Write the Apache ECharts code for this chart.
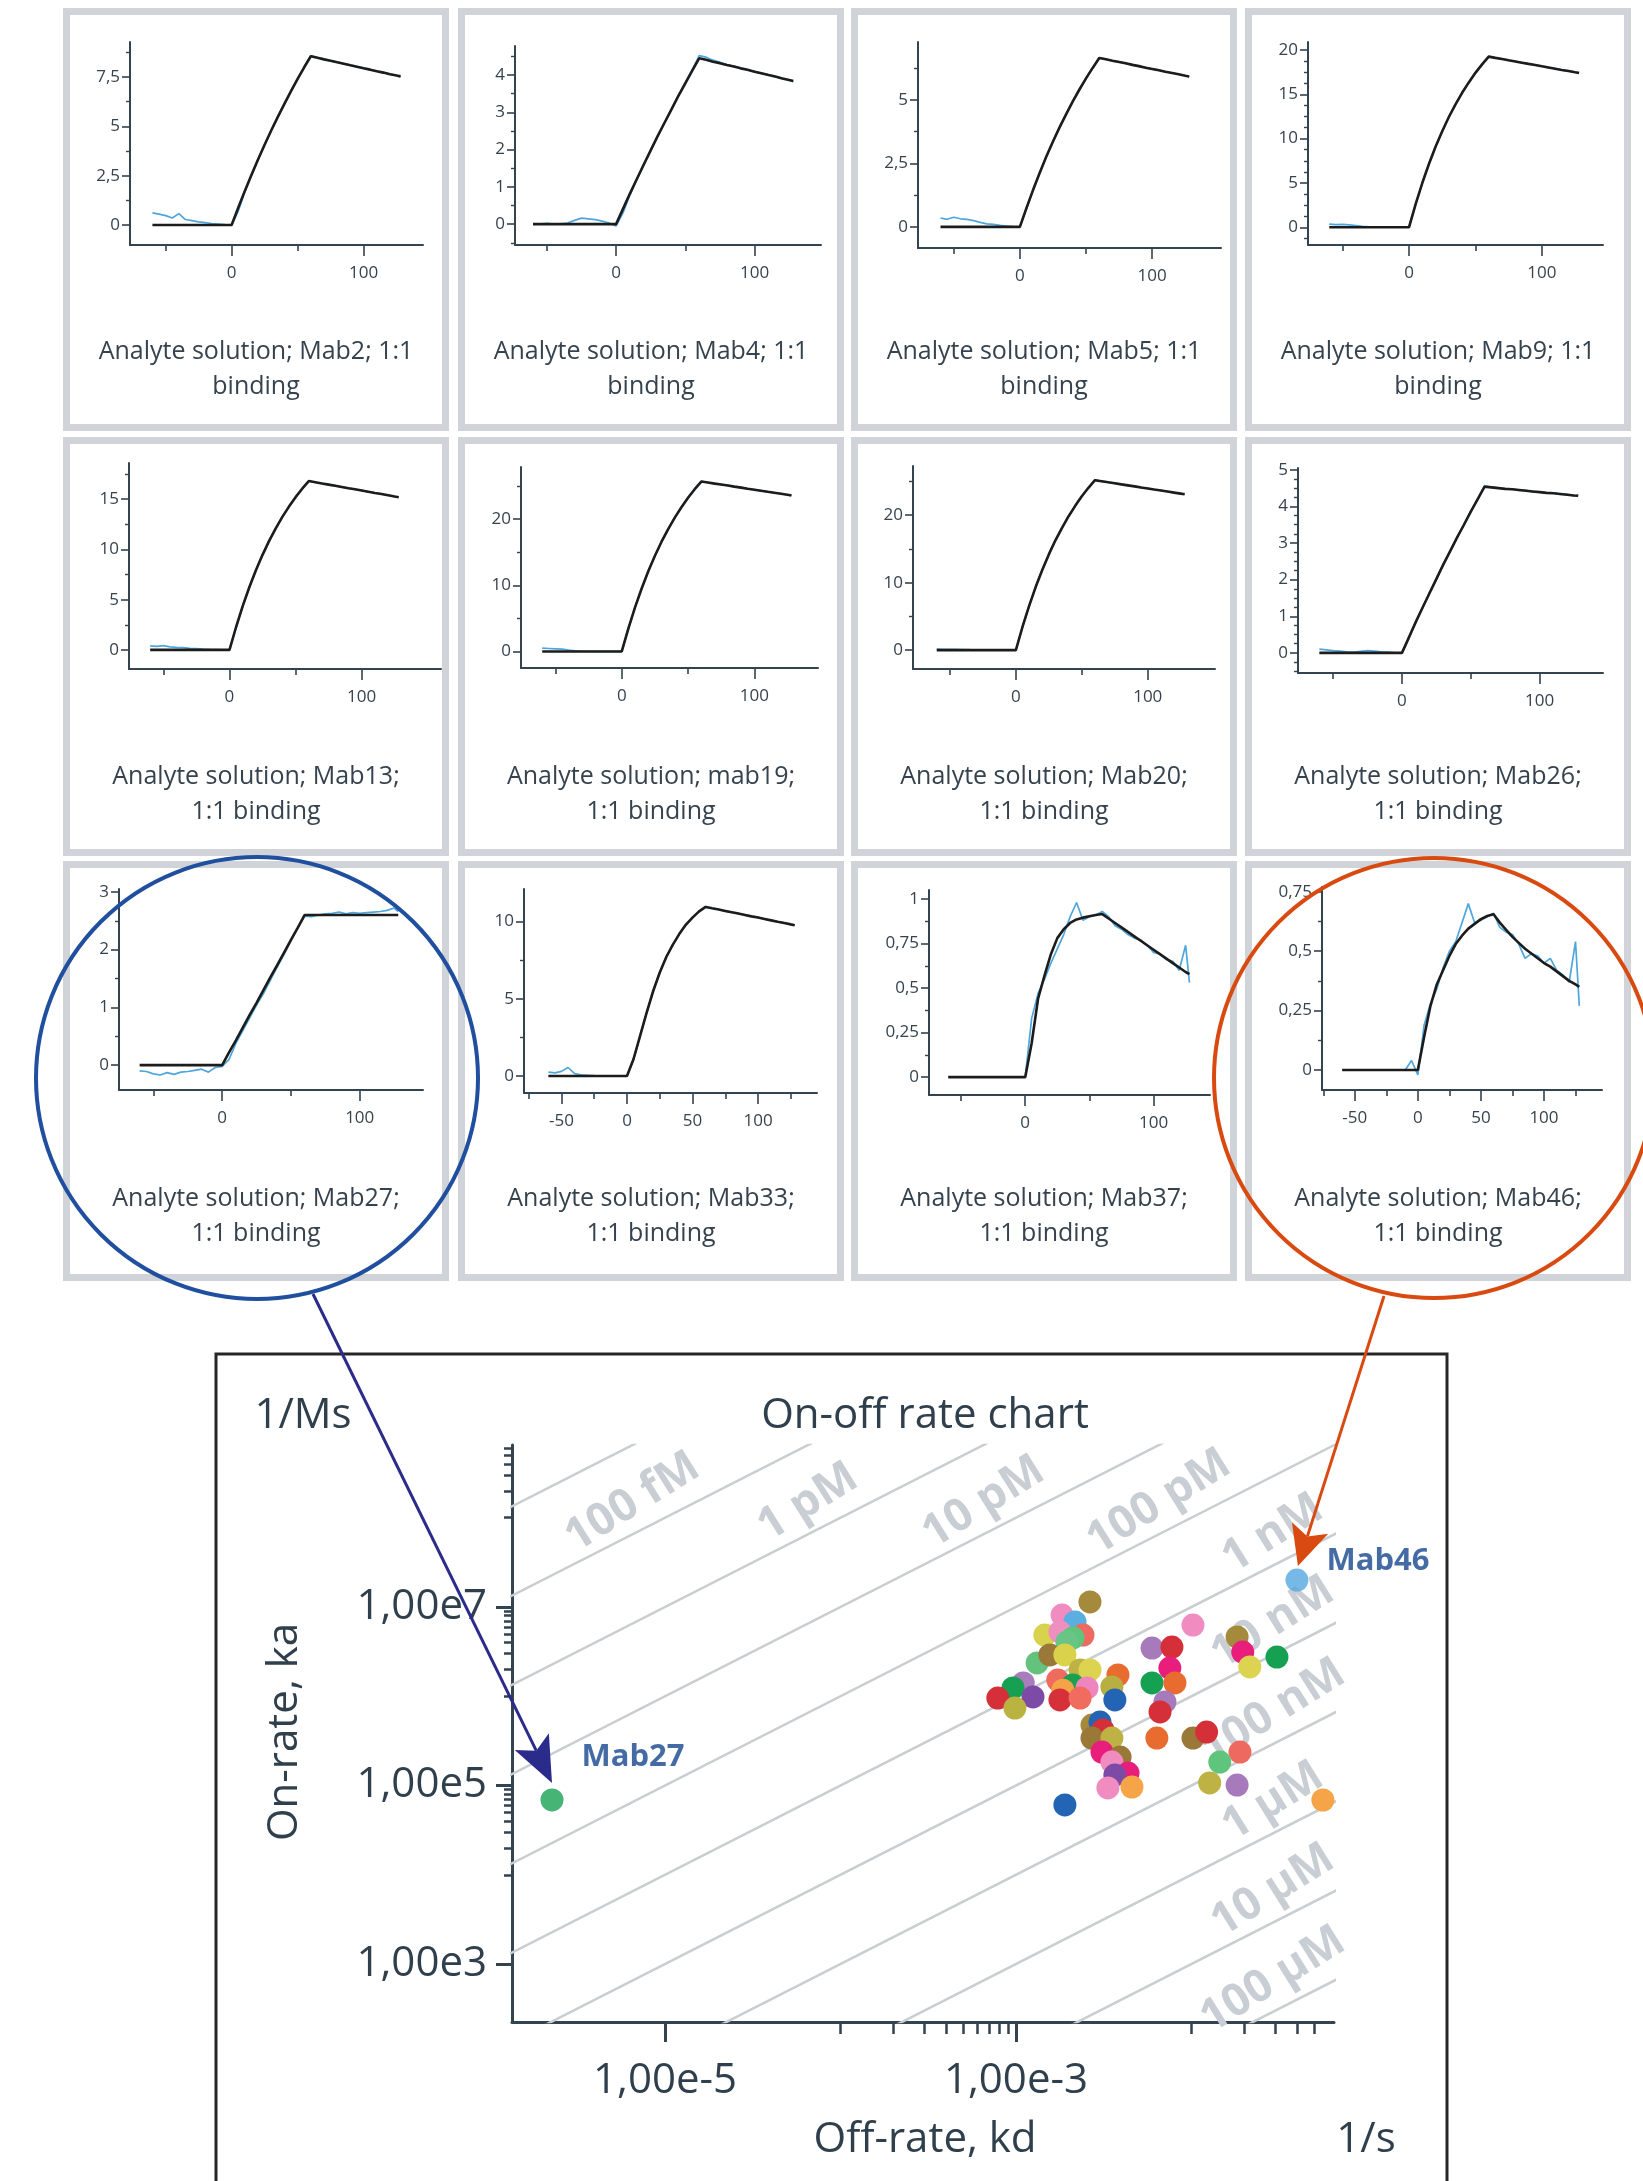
<!DOCTYPE html>
<html>
<head>
<meta charset="utf-8">
<script src="https://cdn.jsdelivr.net/npm/echarts@6/dist/echarts.min.js"></script>
<style>
  html, body { margin: 0; padding: 0; background: #ffffff; }
  #chart { width: 1643px; height: 2181px; }
</style>
</head>
<body>
<div id="chart"></div>
<script>
// ---------------- Sensorgram data (response units vs time, s) ----------------
const TIME = [-60,-55,-50,-45,-40,-35,-30,-25,-20,-15,-10,-5,0,5,10,15,20,25,30,35,40,45,50,55,60,65,70,75,80,85,90,95,100,105,110,115,120,125,128];

const fitMab2 = [0,0,0,0,0,0,0,0,0,0,0,0, 0, 0.88,1.73,2.54,3.32,4.07,4.79,5.48,6.14,6.78,7.40,7.99,8.55, 8.47,8.39,8.32,8.24,8.17,8.09,8.02,7.94,7.87,7.79,7.72,7.64,7.57, 7.53];
const rawMab2 = [0.62,0.55,0.48,0.36,0.58,0.28,0.22,0.16,0.12,0.08,0.05,0.02, 0, 0.70,1.68,2.52,3.30,4.08,4.80,5.46,6.15,6.80,7.38,8.01,8.58, 8.48,8.40,8.31,8.25,8.16,8.10,8.01,7.95,7.86,7.80,7.71,7.65,7.58, 7.50];

const fitMab4 = [0,0,0,0,0,0,0,0,0,0,0,0, 0, 0.41,0.82,1.21,1.60,1.98,2.36,2.72,3.08,3.44,3.78,4.12,4.45, 4.41,4.36,4.32,4.27,4.23,4.18,4.14,4.09,4.05,4.00,3.96,3.91,3.87, 3.84];
const rawMab4 = [0.01,0.00,0.02,0.00,0.01,0.03,0.10,0.16,0.14,0.12,0.08,0.03, -0.05, 0.30,0.78,1.20,1.58,1.99,2.35,2.73,3.07,3.45,3.80,4.14,4.52, 4.48,4.40,4.34,4.28,4.24,4.19,4.13,4.10,4.04,4.01,3.95,3.92,3.86, 3.82];

const fitMab5 = [0,0,0,0,0,0,0,0,0,0,0,0, 0, 0.75,1.46,2.13,2.77,3.36,3.92,4.44,4.94,5.41,5.85,6.26,6.65, 6.60,6.54,6.49,6.44,6.38,6.33,6.27,6.22,6.17,6.11,6.06,6.01,5.95, 5.92];
const rawMab5 = [0.35,0.30,0.38,0.32,0.30,0.25,0.18,0.12,0.10,0.06,0.03,0.01, 0, 0.70,1.44,2.12,2.78,3.35,3.93,4.43,4.95,5.40,5.86,6.25,6.66, 6.61,6.53,6.50,6.43,6.39,6.32,6.28,6.21,6.18,6.10,6.07,6.00,5.96, 5.90];

const fitMab9 = [0,0,0,0,0,0,0,0,0,0,0,0, 0, 2.62,4.99,7.14,9.09,10.84,12.44,13.86,15.17,16.34,17.42,18.38,19.25, 19.11,18.98,18.84,18.71,18.57,18.43,18.30,18.16,18.03,17.89,17.75,17.62,17.48, 17.40];
const rawMab9 = [0.35,0.30,0.32,0.28,0.20,0.10,0.05,0.02,0.01,0,0,0, 0, 2.55,5.02,7.10,9.12,10.80,12.47,13.83,15.20,16.31,17.45,18.36,19.28, 19.10,19.00,18.82,18.73,18.55,18.45,18.28,18.18,18.01,17.91,17.73,17.64,17.50, 17.45];

const fitMab13 = [0,0,0,0,0,0,0,0,0,0,0,0, 0, 2.28,4.35,6.23,7.93,9.46,10.85,12.10,13.24,14.26,15.20,16.04,16.80, 16.68,16.56,16.45,16.33,16.21,16.09,15.98,15.86,15.74,15.62,15.51,15.39,15.27, 15.20];
const rawMab13 = [0.40,0.35,0.42,0.30,0.25,0.22,0.15,0.12,0.08,0.05,0.03,0.01, 0, 2.20,4.38,6.20,7.96,9.43,10.88,12.07,13.27,14.23,15.22,16.02,16.83, 16.66,16.58,16.43,16.35,16.19,16.11,15.96,15.88,15.72,15.64,15.49,15.41,15.25, 15.22];

const fitMab19 = [0,0,0,0,0,0,0,0,0,0,0,0, 0, 3.50,6.66,9.53,12.13,14.47,16.60,18.50,20.25,21.82,23.26,24.54,25.70, 25.55,25.39,25.24,25.09,24.93,24.78,24.62,24.47,24.32,24.16,24.01,23.86,23.70, 23.60];
const rawMab19 = [0.50,0.45,0.40,0.35,0.20,0.10,0.05,0.02,0,0,0,0, 0, 3.40,6.70,9.50,12.16,14.44,16.63,18.47,20.28,21.79,23.29,24.51,25.74, 25.52,25.42,25.21,25.12,24.90,24.81,24.59,24.50,24.29,24.19,23.98,23.89,23.67, 23.65];

const fitMab20 = [0,0,0,0,0,0,0,0,0,0,0,0, 0, 3.43,6.53,9.35,11.89,14.19,16.28,18.14,19.86,21.39,22.81,24.07,25.20, 25.05,24.89,24.74,24.58,24.43,24.28,24.12,23.97,23.81,23.66,23.51,23.35,23.20, 23.10];
const rawMab20 = [0.15,0.12,0.10,0.12,0.08,0.06,0.05,0.04,0.02,0.01,0,0, 0, 3.35,6.56,9.32,11.92,14.16,16.31,18.11,19.89,21.36,22.84,24.04,25.24, 25.02,24.92,24.71,24.61,24.40,24.31,24.09,24.00,23.78,23.69,23.48,23.38,23.17, 23.15];

const fitMab26 = [0,0,0,0,0,0,0,0,0,0,0,0, 0, 0.42,0.84,1.24,1.63,2.02,2.41,2.78,3.15,3.50,3.86,4.20,4.54, 4.52,4.50,4.48,4.47,4.45,4.43,4.41,4.39,4.37,4.36,4.34,4.32,4.30, 4.29];
const rawMab26 = [0.10,0.08,0.06,0.05,0.03,0.02,0.04,0.06,0.05,0.03,0.02,0.00, -0.01, 0.38,0.85,1.22,1.65,2.00,2.43,2.76,3.17,3.48,3.88,4.18,4.57, 4.53,4.51,4.47,4.48,4.44,4.44,4.40,4.40,4.36,4.37,4.33,4.33,4.29, 4.31];

const fitMab27 = [0,0,0,0,0,0,0,0,0,0,0,0, 0, 0.22,0.43,0.65,0.87,1.08,1.30,1.52,1.73,1.95,2.17,2.38,2.60, 2.60,2.60,2.60,2.60,2.60,2.60,2.60,2.60,2.60,2.60,2.60,2.60,2.60, 2.60];
const rawMab27 = [-0.10,-0.11,-0.15,-0.17,-0.13,-0.16,-0.12,-0.11,-0.09,-0.07,-0.12,-0.04, -0.02, 0.10,0.38,0.60,0.82,1.04,1.24,1.47,1.70,1.92,2.15,2.38,2.58, 2.57,2.60,2.62,2.63,2.65,2.62,2.64,2.63,2.64,2.65,2.66,2.68,2.72, 2.66];

const fitMab33 = [0,0,0,0,0,0,0,0,0,0,0,0, 0, 1.10,2.60,4.10,5.50,6.70,7.70,8.50,9.20,9.80,10.25,10.65,10.94, 10.85,10.77,10.68,10.59,10.51,10.42,10.33,10.25,10.16,10.07,9.98,9.90,9.81, 9.76];
const rawMab33 = [0.25,0.20,0.30,0.55,0.15,0.08,0.05,0.02,0,0,0,0, 0, 1.05,2.62,4.08,5.52,6.68,7.72,8.48,9.22,9.78,10.27,10.63,10.96, 10.84,10.78,10.67,10.60,10.50,10.43,10.32,10.26,10.15,10.08,9.97,9.91,9.80, 9.78];

const fitMab37 = [0,0,0,0,0,0,0,0,0,0,0,0, 0, 0.19,0.44,0.57,0.69,0.78,0.83,0.865,0.885,0.895,0.903,0.91,0.915, 0.89,0.865,0.84,0.815,0.79,0.765,0.74,0.715,0.69,0.665,0.64,0.615,0.59, 0.578];
const rawMab37 = [0,0,0,0,0,0,0,0,0,0,0,0, 0, 0.33,0.47,0.55,0.64,0.72,0.80,0.90,0.98,0.88,0.90,0.91,0.93, 0.90,0.85,0.83,0.80,0.78,0.77,0.74,0.70,0.69,0.66,0.65,0.60,0.74, 0.53];

const fitMab46 = [0,0,0,0,0,0,0,0,0,0,0,0, 0, 0.14,0.27,0.36,0.42,0.48,0.53,0.565,0.595,0.615,0.635,0.648,0.655, 0.62,0.59,0.56,0.535,0.51,0.49,0.47,0.45,0.435,0.415,0.395,0.375,0.36, 0.35];
const rawMab46 = [0,0,0,0,0,0,0,0,0,0,0,0.04, -0.02, 0.19,0.28,0.34,0.43,0.50,0.54,0.62,0.70,0.62,0.63,0.645,0.66, 0.60,0.58,0.57,0.53,0.47,0.49,0.48,0.45,0.47,0.42,0.40,0.37,0.54, 0.27];

const panelNames = ['Mab2','Mab4','Mab5','Mab9','Mab13','mab19','Mab20','Mab26','Mab27','Mab33','Mab37','Mab46'];
const panelFits = [fitMab2, fitMab4, fitMab5, fitMab9, fitMab13, fitMab19, fitMab20, fitMab26, fitMab27, fitMab33, fitMab37, fitMab46];
const panelRaws = [rawMab2, rawMab4, rawMab5, rawMab9, rawMab13, rawMab19, rawMab20, rawMab26, rawMab27, rawMab33, rawMab37, rawMab46];

// response-axis tick labels
const yTicksMab2 = [0, 2.5, 5, 7.5];
const yTicksMab4 = [0, 1, 2, 3, 4];
const yTicksMab5 = [0, 2.5, 5];
const yTicksMab9 = [0, 5, 10, 15, 20];
const yTicksMab13 = [0, 5, 10, 15];
const yTicksMab19 = [0, 10, 20];
const yTicksMab20 = [0, 10, 20];
const yTicksMab26 = [0, 1, 2, 3, 4, 5];
const yTicksMab27 = [0, 1, 2, 3];
const yTicksMab33 = [0, 5, 10];
const yTicksMab37 = [0, 0.25, 0.5, 0.75, 1];
const yTicksMab46 = [0, 0.25, 0.5, 0.75];
const panelYTicks = [yTicksMab2, yTicksMab4, yTicksMab5, yTicksMab9, yTicksMab13, yTicksMab19, yTicksMab20, yTicksMab26, yTicksMab27, yTicksMab33, yTicksMab37, yTicksMab46];

// time-axis tick labels
const timeTicksShort = [0, 100];
const timeMinorShort = [-50, 50];
const timeTicksLong = [-50, 0, 50, 100];
const timeMinorLong = [-75, -25, 25, 75, 125];

// ---------------- On-off rate data ----------------
const offRates = [2.64e-3,1.83e-3,2.17e-3,1.46e-3,1.78e-3,2.41e-3,2.11e-3,1.95e-3,1.32e-3,1.56e-3,
  1.90e-3,1.73e-3,2.32e-3,2.64e-3,2.11e-3,2.54e-3,1.85e-3,1.78e-3,2.32e-3,3.81e-3,
  3.52e-3,3.66e-3,1.10e-3,9.62e-4,1.25e-3,7.88e-4,9.86e-4,5.96e-3,7.74e-3,7.53e-3,
  5.96e-3,8.05e-3,7.06e-3,6.62e-3,1.02e-2,1.82e-2,1.96e-2,2.15e-2,3.07e-2,2.71e-3,
  3.01e-3,3.13e-3,2.71e-3,3.52e-3,3.09e-3,3.92e-3,3.52e-3,4.35e-3,3.66e-3,3.34e-3,
  4.58e-3,6.35e-3,1.02e-2,1.22e-2,1.89e-2,1.45e-2,1.27e-2,1.82e-2,1.90e-3,5.61e-2];
const onRates = [1.14e7,8.13e6,6.79e6,4.85e6,5.25e6,4.85e6,4.50e6,4.05e6,2.36e6,2.90e6,
  2.90e6,1.52e6,1.97e6,1.97e6,1.34e6,1.24e6,1.17e6,9.08e5,9.55e5,1.73e6,
  1.27e6,9.08e5,1.41e6,1.24e6,9.82e5,9.55e5,7.38e5,3.47e6,3.56e6,2.07e6,
  1.41e6,1.41e6,8.63e5,6.67e5,6.28e6,4.61e6,3.13e6,2.13e6,2.75e6,4.76e5,
  5.14e5,4.19e5,3.40e5,3.40e5,2.37e5,2.08e5,1.83e5,1.38e5,1.31e5,9.38e4,
  9.62e4,3.40e5,3.40e5,3.97e5,2.37e5,1.83e5,1.07e5,1.01e5,6.05e4,6.88e4];
const mab27Rates = [2.27e-6, 6.9e4];
const mab46Rates = [3.99e-2, 2.0e7];

const isoKD = [1e-14, 1e-13, 1e-12, 1e-11, 1e-10, 1e-9, 1e-8, 1e-7, 1e-6, 1e-5, 1e-4];
const isoLabels = ['10 fM', '100 fM', '1 pM', '10 pM', '100 pM', '1 nM', '10 nM', '100 nM', '1 µM', '10 µM', '100 µM'];

const offRateTicks = [1e-5, 1e-3];
const offRateMinorTicks = [1e-4,2e-4,3e-4,4e-4,5e-4,6e-4,7e-4,8e-4,9e-4, 1e-2,2e-2,3e-2,4e-2,5e-2];
const onRateTicks = [1e3, 1e5, 1e7];
const onRateMinorTicks = [1e4,2e4,3e4,4e4,5e4,6e4,7e4,8e4,9e4, 1e6,2e6,3e6,4e6,5e6,6e6,7e6,8e6,9e6, 1e8,2e8,3e8,4e8,5e8,6e8];

// ---------------- layout & style ----------------
const panelBoxes = [
  [130, 42, 423, 245], [515, 46, 821, 245], [918, 42, 1221, 248], [1308, 42, 1603, 245],
  [129, 463, 441, 669], [521, 467, 818, 668], [913, 466, 1215, 669], [1298, 468, 1603, 673],
  [119, 889, 423, 1090], [524, 889, 817, 1093], [929, 890, 1210, 1095], [1322, 887, 1602, 1090]
];
const panelXRange = [[-77,145],[-73,148],[-77,152],[-76,146],[-76,160],[-76,148],[-78,151],[-75.5,146],[-75,146],[-78.6,145],[-75,144],[-76,146]];
const panelYRange = [[-1.01,9.27],[-0.56,4.78],[-0.83,7.28],[-2.0,20.9],[-1.9,18.6],[-2.5,27.9],[-2.8,27.3],[-0.55,5.05],[-0.43,3.05],[-1.1,12.1],[-0.10,1.05],[-0.084,0.77]];
const panelYMinorStep = [1.25, 0.5, 1.25, 1.25, 2.5, 5, 5, 0.25, 0.5, 2.5, 0.125, 0.125];
const panelLongTime = [false,false,false,false,false,false,false,false,false,true,false,true];
const panelCols = [63, 458, 851, 1245];
const panelRows = [8, 437, 861];
const panelH = [423, 419, 420];
const panelW = 386;
const titleY = [369.5, 794, 1216.5];

const rateBox = { left: 512, top: 1445, right: 1334, bottom: 2022 };
const offRateRange = [1.343e-6, 0.0649];
const onRateRange = [224, 6.53e8];

const dotColors = ['#a68a3c','#f08cbf','#5aaee0','#d9d24c','#ef8fc0','#ee6a60','#5fc47c','#69c585','#63c27c','#9a7838',
  '#d9d24a','#ef6b5e','#bdb243','#dcd450','#17a151','#ee85bd','#f4a347','#d6303a','#f06c5f','#e86b30',
  '#b9ae41','#2364b4','#a97cbc','#16a152','#7d4aa6','#d52f39','#bab241','#a77bbb','#d52f39','#e91e7c',
  '#16a152','#e86b30','#a77bbb','#d52f39','#f08cbf','#a68a3c','#e91e7c','#dcd450','#16a152','#a68a3c',
  '#2364b4','#d52f39','#9a7838','#bdb243','#e91e7c','#9a7838','#f08cbf','#e91e7c','#7d4aa6','#f08cbf',
  '#f6a448','#e86b30','#9a7838','#d52f39','#ee6a60','#5fc47c','#bdb243','#a77bbb','#2364b4','#f6a448'];

const FONT = '"Open Sans", "Noto Sans", sans-serif';
const AXIS = '#33434f';
const TEXT = '#2f3f4c';
const comma = v => String(v).replace('.', ',');
const expLabel = v => Math.pow(10, v).toExponential(2).replace('.', ',').replace('e+', 'e');

const grids = [], xAxes = [], yAxes = [], series = [];

// ---------------- 12 sensorgram panels ----------------
panelNames.forEach((name, i) => {
  const [l, t, r, b] = panelBoxes[i];
  grids.push({ left: l, top: t, width: r - l, height: b - t, containLabel: false, outerBoundsMode: 'none' });
  const [xmin, xmax] = panelXRange[i];
  const [ymin, ymax] = panelYRange[i];
  const xMajor = panelLongTime[i] ? timeTicksLong : timeTicksShort;
  const xMinor = panelLongTime[i] ? timeMinorLong : timeMinorShort;
  const yMajor = panelYTicks[i];
  const step = panelYMinorStep[i];
  const yMinor = [];
  for (let k = Math.ceil(ymin / step); k * step <= ymax + 1e-9; k++) {
    const v = +(k * step).toFixed(4);
    if (!yMajor.some(m => Math.abs(m - v) < 1e-6)) yMinor.push(v);
  }
  const lbl = { fontSize: 17, color: '#36434f', fontFamily: FONT };
  xAxes.push({
    gridIndex: i, type: 'value', min: xmin, max: xmax, position: 'bottom',
    axisLine: { show: true, onZero: false, lineStyle: { color: AXIS, width: 2 } },
    axisTick: { show: true, customValues: xMajor, length: 11, lineStyle: { color: AXIS, width: 1.6 } },
    axisLabel: Object.assign({ show: true, customValues: xMajor, margin: 20, formatter: comma }, lbl),
    splitLine: { show: false }
  });
  xAxes.push({
    gridIndex: i, type: 'value', min: xmin, max: xmax, position: 'bottom',
    axisLine: { show: false, onZero: false },
    axisTick: { show: true, customValues: xMinor, length: 6, lineStyle: { color: AXIS, width: 1.6 } },
    axisLabel: { show: false }, splitLine: { show: false }
  });
  yAxes.push({
    gridIndex: i, type: 'value', min: ymin, max: ymax, position: 'left',
    axisLine: { show: true, onZero: false, lineStyle: { color: AXIS, width: 2 } },
    axisTick: { show: true, customValues: yMajor, length: 8, lineStyle: { color: AXIS, width: 1.6 } },
    axisLabel: Object.assign({ show: true, customValues: yMajor, margin: 10, formatter: comma }, lbl),
    splitLine: { show: false }
  });
  yAxes.push({
    gridIndex: i, type: 'value', min: ymin, max: ymax, position: 'left',
    axisLine: { show: false, onZero: false },
    axisTick: { show: true, customValues: yMinor, length: 4, lineStyle: { color: AXIS, width: 1.4 } },
    axisLabel: { show: false }, splitLine: { show: false }
  });
  series.push({
    name: name + ' data', type: 'line', xAxisIndex: 2 * i, yAxisIndex: 2 * i,
    data: TIME.map((tm, k) => [tm, panelRaws[i][k]]),
    symbol: 'none', silent: true, z: 2,
    lineStyle: { color: '#4ea6dc', width: 1.7 }
  });
  series.push({
    name: name + ' fit', type: 'line', xAxisIndex: 2 * i, yAxisIndex: 2 * i,
    data: TIME.map((tm, k) => [tm, panelFits[i][k]]),
    symbol: 'none', silent: true, z: 3,
    lineStyle: { color: '#1c1c1c', width: 2.6 }
  });
});

// ---------------- On-off rate chart ----------------
const RG = panelNames.length;       // grid index of the rate chart
const RX = 2 * panelNames.length;   // first axis index of the rate chart
grids.push({
  left: rateBox.left, top: rateBox.top,
  width: rateBox.right - rateBox.left, height: rateBox.bottom - rateBox.top,
  containLabel: false, outerBoundsMode: 'none'
});
const logOff = offRateRange.map(Math.log10);
const logOn = onRateRange.map(Math.log10);
const bigLbl = { fontSize: 42, color: TEXT, fontFamily: FONT };

xAxes.push({
  gridIndex: RG, type: 'log', logBase: 10, min: offRateRange[0], max: offRateRange[1], position: 'bottom',
  axisLine: { show: true, onZero: false, lineStyle: { color: AXIS, width: 3 } },
  axisTick: { show: false }, axisLabel: { show: false }, splitLine: { show: false }
});
xAxes.push({
  gridIndex: RG, type: 'value', min: logOff[0], max: logOff[1], position: 'bottom',
  axisLine: { show: false, onZero: false },
  axisTick: { show: true, customValues: offRateTicks.map(Math.log10), length: 20, lineStyle: { color: AXIS, width: 3 } },
  axisLabel: Object.assign({ show: true, customValues: offRateTicks.map(Math.log10), margin: 38, formatter: expLabel }, bigLbl),
  splitLine: { show: false }
});
xAxes.push({
  gridIndex: RG, type: 'value', min: logOff[0], max: logOff[1], position: 'bottom',
  axisLine: { show: false, onZero: false },
  axisTick: { show: true, customValues: offRateMinorTicks.map(Math.log10), length: 12, lineStyle: { color: AXIS, width: 2.5 } },
  axisLabel: { show: false }, splitLine: { show: false }
});
yAxes.push({
  gridIndex: RG, type: 'log', logBase: 10, min: onRateRange[0], max: onRateRange[1], position: 'left',
  axisLine: { show: true, onZero: false, lineStyle: { color: AXIS, width: 3 } },
  axisTick: { show: false }, axisLabel: { show: false }, splitLine: { show: false }
});
yAxes.push({
  gridIndex: RG, type: 'value', min: logOn[0], max: logOn[1], position: 'left',
  axisLine: { show: false, onZero: false },
  axisTick: { show: true, customValues: onRateTicks.map(Math.log10), length: 16, lineStyle: { color: AXIS, width: 3 } },
  axisLabel: Object.assign({ show: true, customValues: onRateTicks.map(Math.log10), margin: 25, formatter: expLabel }, bigLbl),
  splitLine: { show: false }
});
yAxes.push({
  gridIndex: RG, type: 'value', min: logOn[0], max: logOn[1], position: 'left',
  axisLine: { show: false, onZero: false },
  axisTick: { show: true, customValues: onRateMinorTicks.map(Math.log10), length: 8, lineStyle: { color: AXIS, width: 2.5 } },
  axisLabel: { show: false }, splitLine: { show: false }
});

// iso-affinity diagonals: ka = kd / KD
isoKD.forEach((kd0, j) => {
  series.push({
    name: isoLabels[j], type: 'line', xAxisIndex: RX, yAxisIndex: RX,
    data: [[1e-9, 1e-9 / kd0], [1, 1 / kd0]],
    symbol: 'none', silent: true, clip: true, z: 1,
    lineStyle: { color: '#c9ced2', width: 2.5 }
  });
});

series.push({
  name: 'antibodies', type: 'scatter', xAxisIndex: RX, yAxisIndex: RX,
  symbolSize: 23, z: 4, silent: true,
  data: offRates.map((kd, i) => ({ value: [kd, onRates[i]], itemStyle: { color: dotColors[i], opacity: 1 } }))
});
const hlLabel = { show: true, position: 'right', distance: 18, fontSize: 31, fontWeight: 'bold', color: '#17468f', fontFamily: FONT };
series.push({
  name: 'highlighted', type: 'scatter', xAxisIndex: RX, yAxisIndex: RX,
  symbolSize: 23, z: 5, silent: true,
  data: [
    { value: mab27Rates, itemStyle: { color: '#16a152' }, label: Object.assign({ formatter: 'Mab27', offset: [0, -43] }, hlLabel) },
    { value: mab46Rates, itemStyle: { color: '#55a8e0' }, label: Object.assign({ formatter: 'Mab46', offset: [0, -19] }, hlLabel) }
  ]
});

const chart = echarts.init(document.getElementById('chart'), null, { renderer: 'canvas', width: 1643, height: 2181 });
chart.setOption({
  animation: false,
  backgroundColor: '#ffffff',
  grid: grids,
  xAxis: xAxes,
  yAxis: yAxes,
  series: series
});

// ---------------- frames, captions and callouts ----------------
const g = [];
const txt = (x, y, text, size, extra) => Object.assign({
  type: 'text', x: x, y: y, silent: true, z: 20,
  style: {
    text: text, fill: TEXT, fontSize: size, fontFamily: FONT,
    align: 'center', verticalAlign: 'middle', textAlign: 'center', textVerticalAlign: 'middle'
  }
}, extra || {});

panelNames.forEach((name, i) => {
  const row = Math.floor(i / 4), col = i % 4;
  const x0 = panelCols[col], y0 = panelRows[row], h = panelH[row];
  g.push({
    type: 'rect', silent: true, z: 0,
    shape: { x: x0 + 3.5, y: y0 + 3.5, width: panelW - 7, height: h - 7 },
    style: { fill: 'none', stroke: '#d0d4d8', lineWidth: 7 }
  });
  const caption = row === 0
    ? 'Analyte solution; ' + name + '; 1:1\nbinding'
    : 'Analyte solution; ' + name + ';\n1:1 binding';
  const t = txt(x0 + panelW / 2, titleY[row], caption, 25);
  t.style.fill = '#36434e';
  t.style.lineHeight = 35;
  g.push(t);
});

// outer frame of the rate chart
g.push({
  type: 'rect', silent: true, z: 0,
  shape: { x: 216, y: 1354, width: 1231, height: 900 },
  style: { fill: 'none', stroke: '#262626', lineWidth: 3 }
});
g.push(txt(925, 1416, 'On-off rate chart', 42));
g.push(txt(303, 1416, '1/Ms', 42));
g.push(txt(925, 2140, 'Off-rate, kd', 42));
g.push(txt(1366, 2140, '1/s', 42));
g.push(txt(285, 1732, 'On-rate, ka', 42, { rotation: Math.PI / 2 }));

// labels along the iso-affinity lines
const ISO_ANGLE = 32 * Math.PI / 180;
isoKD.forEach((kd0, j) => {
  const kdTop = onRateRange[1] * kd0;
  const kdLabel = Math.min(kdTop / 10, offRateRange[1] / 2.23);
  const p = chart.convertToPixel({ xAxisIndex: RX, yAxisIndex: RX }, [kdLabel, kdLabel / kd0]);
  if (p[0] < rateBox.left + 70) return;
  g.push({
    type: 'text', x: p[0], y: p[1] - 32, rotation: ISO_ANGLE, silent: true, z: 1,
    style: {
      text: isoLabels[j], fill: '#c8ced3', fontSize: 45, fontWeight: 'bold', fontFamily: FONT,
      align: 'center', verticalAlign: 'middle', textAlign: 'center', textVerticalAlign: 'middle'
    }
  });
});

// highlight rings and arrows
g.push({ type: 'circle', silent: true, z: 50, shape: { cx: 257, cy: 1078, r: 221 }, style: { fill: 'none', stroke: '#1f4f9e', lineWidth: 4 } });
g.push({ type: 'circle', silent: true, z: 50, shape: { cx: 1434, cy: 1078, r: 220 }, style: { fill: 'none', stroke: '#d84a10', lineWidth: 4 } });

function arrow(from, to, color, width, headLen, headHalf) {
  const dx = to[0] - from[0], dy = to[1] - from[1];
  const len = Math.hypot(dx, dy);
  const ux = dx / len, uy = dy / len;
  const px = -uy, py = ux;
  const bx = to[0] - ux * headLen, by = to[1] - uy * headLen;
  const notch = [to[0] - ux * headLen * 0.78, to[1] - uy * headLen * 0.78];
  return [
    { type: 'line', silent: true, z: 60, shape: { x1: from[0], y1: from[1], x2: notch[0], y2: notch[1] }, style: { stroke: color, lineWidth: width } },
    { type: 'polygon', silent: true, z: 60, shape: { points: [to, [bx + px * headHalf, by + py * headHalf], notch, [bx - px * headHalf, by - py * headHalf]] }, style: { fill: color } }
  ];
}
const p27 = chart.convertToPixel({ xAxisIndex: RX, yAxisIndex: RX }, mab27Rates);
const p46 = chart.convertToPixel({ xAxisIndex: RX, yAxisIndex: RX }, mab46Rates);
g.push(...arrow([313, 1294], [p27[0], p27[1] - 17], '#2b2b8c', 3, 46, 19));
g.push(...arrow([1384, 1296], [p46[0] + 1, p46[1] - 14], '#d84a10', 3, 40, 19));

chart.setOption({ graphic: g });
</script>
</body>
</html>
